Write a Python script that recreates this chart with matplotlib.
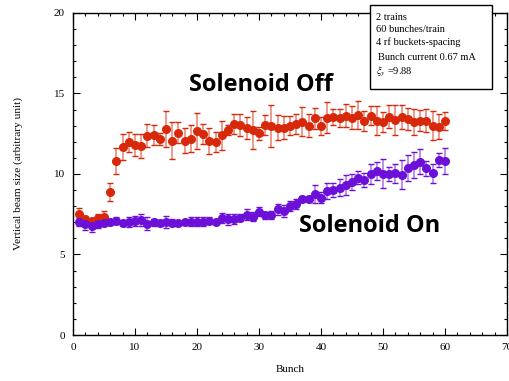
import numpy as np
import matplotlib
matplotlib.use("Agg")
import matplotlib.pyplot as plt
from matplotlib.patches import Rectangle
from matplotlib.ticker import MultipleLocator

plt.rcParams['mathtext.fontset'] = 'stix'

bunch = np.arange(1, 61)

off_size = [7.50, 7.20, 7.08, 7.29, 7.35, 8.90, 10.83, 11.66, 11.97, 11.80,
            11.74, 12.38, 12.42, 12.17, 12.80, 12.07, 12.57, 12.07, 12.20, 12.67,
            12.48, 12.07, 11.99, 12.42, 12.73, 13.10, 13.04, 12.86, 12.73, 12.53,
            13.04, 13.00, 12.88, 12.88, 13.00, 13.10, 13.25, 13.00, 13.46, 13.00,
            13.50, 13.56, 13.46, 13.62, 13.50, 13.66, 13.29, 13.62, 13.31, 13.23,
            13.56, 13.35, 13.56, 13.42, 13.23, 13.31, 13.31, 13.00, 12.94, 13.31]
off_err = [0.36, 0.20, 0.20, 0.20, 0.38, 0.57, 0.80, 0.80, 0.62, 0.66,
           0.75, 0.70, 0.60, 0.36, 1.10, 1.15, 0.67, 0.77, 0.83, 1.14,
           0.60, 0.80, 0.60, 0.90, 0.30, 0.60, 0.70, 0.70, 1.20, 0.40,
           0.60, 1.30, 0.80, 0.70, 0.60, 0.60, 0.90, 0.70, 0.65, 0.55,
           0.95, 0.50, 0.55, 0.70, 0.70, 0.85, 0.60, 0.60, 0.90, 0.65,
           0.70, 0.95, 0.75, 0.70, 0.78, 0.65, 0.72, 0.90, 0.78, 0.57]

on_size = [7.02, 6.90, 6.77, 6.90, 6.96, 7.02, 7.10, 6.94, 7.02, 7.10,
           7.14, 6.90, 7.00, 6.96, 7.02, 6.98, 6.94, 7.00, 7.04, 7.04,
           7.04, 7.10, 7.02, 7.25, 7.18, 7.22, 7.29, 7.47, 7.35, 7.66,
           7.43, 7.43, 7.80, 7.70, 8.01, 8.12, 8.43, 8.43, 8.74, 8.53,
           8.94, 9.00, 9.15, 9.32, 9.48, 9.77, 9.63, 10.00, 10.19, 10.00,
           10.00, 10.04, 9.96, 10.35, 10.56, 10.77, 10.35, 10.04, 10.87, 10.83]
on_err = [0.25, 0.35, 0.35, 0.25, 0.20, 0.20, 0.20, 0.15, 0.30, 0.30,
          0.40, 0.40, 0.20, 0.20, 0.35, 0.20, 0.15, 0.15, 0.30, 0.30,
          0.30, 0.20, 0.15, 0.30, 0.35, 0.30, 0.20, 0.35, 0.30, 0.30,
          0.20, 0.25, 0.35, 0.40, 0.33, 0.30, 0.20, 0.20, 0.57, 0.36,
          0.47, 0.45, 0.52, 0.64, 0.50, 0.41, 0.41, 0.65, 0.54, 0.90,
          0.41, 0.61, 0.88, 0.80, 0.80, 0.77, 0.47, 0.58, 0.45, 0.80]

info_lines = ["2 trains", "60 bunches/train", "4 rf buckets-spacing"]
info_current = "Bunch current 0.67 mA"
info_xi = r"$\xi_y$ =9.88"

RED = "#d8280a"
PURPLE = "#6c0fd8"
SERIF = ["Liberation Serif", "DejaVu Serif"]
BOLD_SANS = ["Open Sans", "DejaVu Sans"]


def draw_series(ax, x, y, err, color):
    line, caps, bars = ax.errorbar(x, y, yerr=err, fmt='o', color=color,
                                   markersize=5.5, capsize=2.2, elinewidth=1.3,
                                   capthick=1.0, zorder=3)
    for b in bars:
        b.set_alpha(0.5)
    return line


fig = plt.figure(figsize=(5.09, 3.81), dpi=100)
ax = fig.add_axes([0.1434, 0.1207, 0.8526, 0.8453])

draw_series(ax, bunch, off_size, off_err, RED)
draw_series(ax, bunch, on_size, on_err, PURPLE)

ax.set_xlim(0, 70)
ax.set_ylim(0, 20)
ax.xaxis.set_major_locator(MultipleLocator(10))
ax.xaxis.set_minor_locator(MultipleLocator(2))
ax.yaxis.set_major_locator(MultipleLocator(5))
ax.yaxis.set_minor_locator(MultipleLocator(1))
ax.tick_params(which='both', direction='in', top=True, right=True, width=0.8)
ax.tick_params(which='major', length=5, labelsize=8, pad=6)
ax.tick_params(which='minor', length=2.5)
for lab in ax.get_xticklabels() + ax.get_yticklabels():
    lab.set_family(SERIF)
for s in ax.spines.values():
    s.set_linewidth(1.0)

ax.set_xlabel("Bunch", fontsize=8, family=SERIF, labelpad=9)
ax.set_ylabel("Vertical beam size (arbitrary unit)", fontsize=8.2, family=SERIF, labelpad=22)

ax.text(30.3, 15.5, "Solenoid Off", fontsize=17, fontweight='bold',
        family=BOLD_SANS, ha='center', va='center')
ax.text(47.8, 6.75, "Solenoid On", fontsize=17, fontweight='bold',
        family=BOLD_SANS, ha='center', va='center')

# info box in figure pixels
W, H = 509, 381
box = Rectangle((370 / W, 1 - 89 / H), 122 / W, 84 / H, transform=fig.transFigure,
                facecolor='white', edgecolor='black', linewidth=1.0, zorder=5)
fig.patches.append(box)
ys = [18, 30, 42]
for t, yy in zip(info_lines, ys):
    fig.text(376 / W, 1 - yy / H, t, fontsize=7.5, family=SERIF, va='center', zorder=6)
fig.text(378 / W, 1 - 58 / H, info_current, fontsize=7.5, family=SERIF, va='center', zorder=6)
fig.text(376 / W, 1 - 72 / H, info_xi, fontsize=7.5, family=SERIF, va='center', zorder=6)

fig.savefig("out.png", dpi=100)
